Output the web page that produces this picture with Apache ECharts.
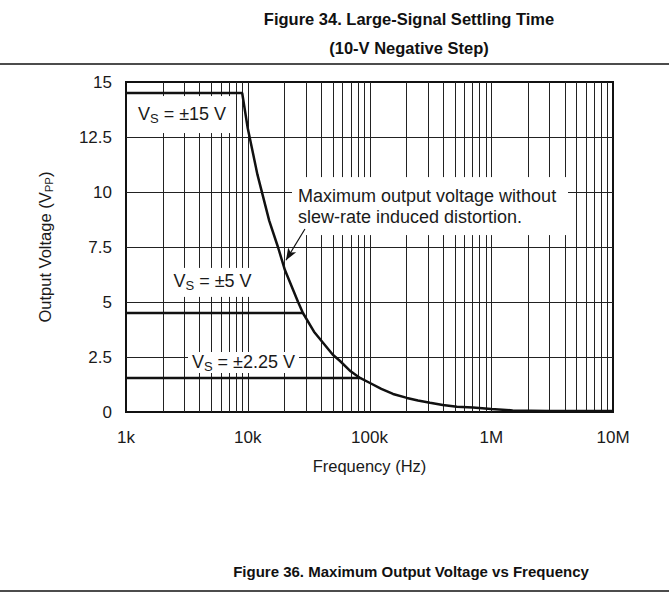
<!DOCTYPE html>
<html>
<head>
<meta charset="utf-8">
<script src="https://cdn.jsdelivr.net/npm/echarts@6/dist/echarts.min.js"></script>
<style>
html,body{margin:0;padding:0;background:#fff;}
#chart{width:669px;height:593px;}
</style>
</head>
<body>
<div id="chart"></div>
<script>
// max output voltage curve (Hz, Vpp)
var curveFreq = [1000, 9000, 10000, 12000, 15000, 17700, 20200, 25900, 28400, 35000, 50000, 57000, 70000, 83600, 100000, 125000, 156000, 203000, 250000, 314000, 400000, 523000, 708000, 1000000, 1500000, 3000000, 10000000];
var curveVolt = [14.5, 14.5, 12.9, 10.8, 8.7, 7.5, 6.45, 5.0, 4.5, 3.65, 2.6, 2.33, 1.85, 1.55, 1.33, 1.05, 0.82, 0.64, 0.52, 0.42, 0.32, 0.24, 0.2, 0.14, 0.07, 0.05, 0.04];
// supply limited flat lines
var vs5Freq = [1000, 28400];
var vs5Volt = [4.5, 4.5];
var vs225Freq = [1000, 83600];
var vs225Volt = [1.55, 1.55];

// annotation anchor points (Hz, Vpp) and texts
var noteFreq = [2884, 5135, 9225, 314000];
var noteVolt = [13.52, 5.89, 2.25, 9.36];
var noteText = [
    '{a|V}{s|S}{a| = ±15 V}',
    '{a|V}{s|S}{a| = ±5 V}',
    '{a|V}{s|S}{a| = ±2.25 V}',
    '{b|Maximum output voltage without}\n{b|slew-rate induced distortion.}'
];
// arrow from note to curve
var arrowFreq = [29500, 20600];
var arrowVolt = [8.32, 6.9];

var xTickLabels = ['1k', '10k', '100k', '1M', '10M'];
var yTicks = [2.5, 5, 7.5, 10, 12.5];
var decades = [1000, 10000, 100000, 1000000];
var gridMult = [2, 3, 4, 5, 6, 7, 8, 9, 10];

var FONT = '"Liberation Sans", Arial, Helvetica, sans-serif';
var INK = '#1a1a1a';

// white gap around each note (px)
var noteBox = [[108, 37], [89, 29], [111, 21], [276, 58]];

function pairs(xs, ys) {
    var out = [];
    for (var i = 0; i < xs.length; i++) out.push([xs[i], ys[i]]);
    return out;
}

var gridFreq = [];
decades.forEach(function (d) {
    gridMult.forEach(function (m) {
        if (d * m < 10000000) gridFreq.push(d * m);
    });
});

// cut [a,b] by a list of [lo,hi] gaps
function cutSegments(a, b, gaps) {
    var segs = [[a, b]];
    gaps.forEach(function (g) {
        var next = [];
        segs.forEach(function (s) {
            if (g[1] <= s[0] || g[0] >= s[1]) { next.push(s); return; }
            if (g[0] > s[0]) next.push([s[0], g[0]]);
            if (g[1] < s[1]) next.push([g[1], s[1]]);
        });
        segs = next;
    });
    return segs;
}

function noteRects(api) {
    return noteFreq.map(function (f, i) {
        var p = api.coord([f, noteVolt[i]]);
        var w = noteBox[i][0], h = noteBox[i][1];
        return {x0: p[0] - w / 2, x1: p[0] + w / 2, y0: p[1] - h / 2, y1: p[1] + h / 2};
    });
}

var lineStyle = {stroke: '#222', lineWidth: 1};

function renderGrid(params, api) {
    var boxes = noteRects(api);
    var top = api.coord([1000, 15])[1], bottom = api.coord([1000, 0])[1];
    var left = api.coord([1000, 0])[0], right = api.coord([10000000, 0])[0];
    var children = [];
    gridFreq.forEach(function (f) {
        var x = Math.round(api.coord([f, 0])[0]) + 0.5;
        var gaps = boxes.filter(function (b) { return x > b.x0 && x < b.x1; })
            .map(function (b) { return [b.y0, b.y1]; });
        cutSegments(top, bottom, gaps).forEach(function (s) {
            children.push({type: 'line', shape: {x1: x, y1: s[0], x2: x, y2: s[1]}, style: lineStyle});
        });
    });
    yTicks.forEach(function (v) {
        var y = Math.round(api.coord([1000, v])[1]) + 0.5;
        var gaps = boxes.filter(function (b) { return y > b.y0 && y < b.y1; })
            .map(function (b) { return [b.x0, b.x1]; });
        cutSegments(left, right, gaps).forEach(function (s) {
            children.push({type: 'line', shape: {x1: s[0], y1: y, x2: s[1], y2: y}, style: lineStyle});
        });
    });
    return {type: 'group', children: children};
}

var noteRich = {
    a: {fontSize: 18, fill: INK, fontFamily: FONT},
    s: {fontSize: 13, fill: INK, fontFamily: FONT, padding: [9, 0, 0, 0]},
    b: {fontSize: 18, fill: INK, fontFamily: FONT, lineHeight: 21}
};

function renderNote(params, api) {
    var i = params.dataIndex;
    var p = api.coord([api.value(0), api.value(1)]);
    var isLong = i === 3;
    return {
        type: 'text',
        x: isLong ? p[0] - noteBox[i][0] / 2 + 6 : p[0],
        y: p[1] + (isLong ? 0 : -1),
        style: {
            text: noteText[i],
            rich: noteRich,
            fill: INK,
            font: '18px ' + FONT,
            align: isLong ? 'left' : 'center',
            verticalAlign: 'middle'
        }
    };
}

var option = {
    animation: false,
    title: [{
        text: 'Figure 34. Large-Signal Settling Time\n(10-V Negative Step)',
        left: 404,
        top: -1,
        textAlign: 'center',
        textStyle: {fontFamily: FONT, fontSize: 16.5, fontWeight: 'bold', color: '#111', lineHeight: 29}
    }, {
        text: 'Figure 36. Maximum Output Voltage vs Frequency',
        left: 406,
        top: 557,
        textAlign: 'center',
        textStyle: {fontFamily: FONT, fontSize: 15, fontWeight: 'bold', color: '#111', lineHeight: 18}
    }],
    graphic: [
        {type: 'line', shape: {x1: 0, y1: 64, x2: 669, y2: 64}, style: {stroke: '#111', lineWidth: 1.5}},
        {type: 'line', shape: {x1: 0, y1: 591, x2: 669, y2: 591}, style: {stroke: '#111', lineWidth: 1.5}}
    ],
    grid: {
        left: 126, top: 82, width: 487, height: 330,
        show: true, borderColor: '#111', borderWidth: 2, backgroundColor: '#fff'
    },
    xAxis: {
        type: 'log',
        logBase: 10,
        min: 1000,
        max: 10000000,
        name: 'Frequency (Hz)',
        nameLocation: 'middle',
        nameGap: 45,
        nameTextStyle: {fontFamily: FONT, fontSize: 16.5, color: INK},
        axisLine: {show: false},
        axisTick: {show: false},
        axisLabel: {
            margin: 17,
            fontFamily: FONT, fontSize: 17, color: INK,
            formatter: function (v) {
                return xTickLabels[Math.round(Math.log10(v)) - 3];
            }
        },
        splitLine: {show: false}
    },
    yAxis: {
        type: 'value',
        min: 0,
        max: 15,
        interval: 2.5,
        name: 'Output Voltage (V{s|PP})',
        nameLocation: 'middle',
        nameGap: 73,
        nameTextStyle: {
            fontFamily: FONT, fontSize: 16.5, color: INK,
            rich: {s: {fontSize: 11.5, color: INK, fontFamily: FONT, padding: [0, 0, -8, 0]}}
        },
        axisLine: {show: false},
        axisTick: {show: false},
        axisLabel: {margin: 14, fontFamily: FONT, fontSize: 17, color: INK},
        splitLine: {show: false}
    },
    series: [
        {
            // log grid, broken around the notes
            type: 'custom',
            z: 1,
            silent: true,
            data: [[1000, 0]],
            renderItem: renderGrid
        },
        {
            type: 'custom',
            z: 4,
            silent: true,
            data: pairs(noteFreq, noteVolt),
            renderItem: renderNote,
            markLine: {
                silent: true,
                symbol: ['none', 'arrow'],
                symbolSize: [7, 12],
                label: {show: false},
                lineStyle: {color: '#111', width: 1.2, type: 'solid'},
                data: [[{coord: [arrowFreq[0], arrowVolt[0]]}, {coord: [arrowFreq[1], arrowVolt[1]]}]]
            }
        },
        {
            type: 'line',
            data: pairs(curveFreq, curveVolt),
            z: 5,
            symbol: 'none',
            lineStyle: {color: '#111', width: 2.5}
        },
        {
            type: 'line',
            data: pairs(vs5Freq, vs5Volt),
            z: 5,
            symbol: 'none',
            lineStyle: {color: '#111', width: 2.5}
        },
        {
            type: 'line',
            data: pairs(vs225Freq, vs225Volt),
            z: 5,
            symbol: 'none',
            lineStyle: {color: '#111', width: 2.5}
        }
    ]
};

var myChart = echarts.init(document.getElementById('chart'), null, {renderer: 'svg'});
myChart.setOption(option);
</script>
</body>
</html>
